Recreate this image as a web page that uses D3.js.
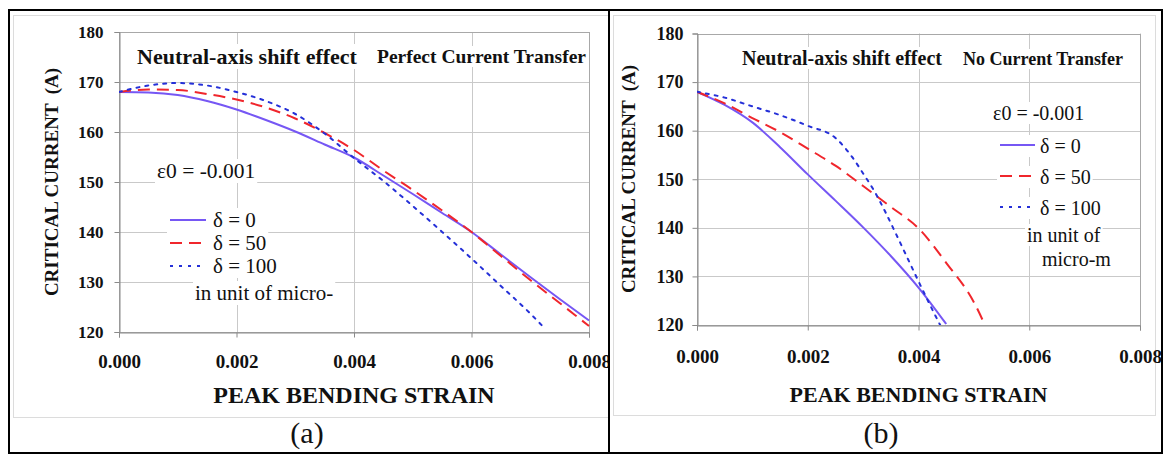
<!DOCTYPE html>
<html>
<head>
<meta charset="utf-8">
<script src="https://cdn.jsdelivr.net/npm/d3@7"></script>
<style>
  html, body { margin: 0; padding: 0; background: #fff; }
  svg { display: block; }
</style>
</head>
<body>
<svg id="fig" width="1166" height="455"></svg>
<script>
// ---- data -------------------------------------------------------------
const strainTicks = [0, 0.002, 0.004, 0.006, 0.008];
const currentTicks = [120, 130, 140, 150, 160, 170, 180];
const seriesLabels = ["δ = 0", "δ = 50", "δ = 100"];

// (a) perfect current transfer
const perfectStrainD0 = [0, 0.0005, 0.001, 0.0015, 0.002, 0.0025, 0.003, 0.0035, 0.004, 0.0045, 0.005, 0.0055, 0.006, 0.0065, 0.007, 0.0075, 0.008];
const perfectD0 = [168, 167.9, 167.4, 166.2, 164.5, 162.4, 160.1, 157.5, 154.9, 151.3, 147.6, 143.8, 140, 135.5, 131, 126.6, 122.3];
const perfectStrainD50 = [0, 0.0005, 0.001, 0.0015, 0.002, 0.0025, 0.003, 0.0035, 0.004, 0.0045, 0.005, 0.0055, 0.006, 0.0065, 0.007, 0.0075, 0.008];
const perfectD50 = [168, 168.5, 168.4, 167.6, 166.5, 164.9, 162.7, 159.8, 156.4, 152.3, 148.4, 144.3, 140, 135.2, 130.4, 125.8, 121.2];
const perfectStrainD100 = [0, 0.0005, 0.001, 0.0015, 0.002, 0.0025, 0.003, 0.0035, 0.004, 0.0045, 0.005, 0.0055, 0.006, 0.0065, 0.007, 0.0072];
const perfectD100 = [168, 169.3, 169.8, 169.3, 168, 166.2, 163.6, 159.7, 154.8, 150.2, 145.2, 140, 134.7, 129.2, 123.7, 121.3];

// (b) no current transfer
const noStrainD0 = [0, 0.0005, 0.001, 0.0015, 0.002, 0.0025, 0.003, 0.0035, 0.004, 0.0045];
const noD0 = [168, 165.3, 161.7, 156.6, 151.0, 145.6, 140.1, 134.2, 127.7, 120.2];
const noStrainD50 = [0, 0.0005, 0.001, 0.0015, 0.002, 0.0025, 0.003, 0.0035, 0.004, 0.0045, 0.005, 0.0052];
const noD50 = [168, 165.6, 162.6, 159.7, 156.3, 152.8, 148.6, 144.3, 139.9, 132.8, 124.7, 120];
const noStrainD100 = [0, 0.0005, 0.001, 0.0015, 0.002, 0.0025, 0.0028, 0.003, 0.0032, 0.0034, 0.0036, 0.0038, 0.004, 0.0042, 0.0044];
const noD100 = [168, 166.8, 165, 163.2, 161, 158.5, 154.6, 151.2, 147.6, 143.3, 138.6, 133.8, 129, 124.3, 119.8];

// ---- styling ----------------------------------------------------------
const SERIF = "'Liberation Serif', 'Times New Roman', serif";
const seriesStyle = [
  { color: "#7657f4", dash: null },
  { color: "#f0262c", dash: "12,7" },
  { color: "#2530d8", dash: "3,6" }
];

const svg = d3.select("#fig");
svg.append("rect").attr("width", 1166).attr("height", 455).attr("fill", "#fff");

function zip(xs, ys) { return xs.map((x, i) => [x, ys[i]]); }

// text with a white box behind it (chart text boxes hide the gridlines)
function boxedText(g, x, y, str, size, weight, anchor) {
  const grp = g.append("g");
  const r = grp.append("rect").attr("fill", "#fff");
  const t = grp.append("text")
    .attr("x", x).attr("y", y)
    .attr("font-family", SERIF)
    .attr("font-size", size)
    .attr("font-weight", weight || "normal")
    .attr("text-anchor", anchor || "start")
    .attr("fill", "#111")
    .text(str);
  const bb = t.node().getBBox();
  r.attr("x", bb.x - 2).attr("y", bb.y).attr("width", bb.width + 4).attr("height", bb.height);
  return grp;
}

function drawPanel(p) {
  const root = svg.append("g");
  const clipId = "cell-" + p.id;
  svg.append("clipPath").attr("id", clipId)
    .append("rect").attr("x", p.cell[0]).attr("y", 0).attr("width", p.cell[1] - p.cell[0]).attr("height", 455);
  const g = root.append("g").attr("clip-path", `url(#${clipId})`);

  // chart frame
  g.append("rect")
    .attr("x", p.frame[0] + 0.5).attr("y", p.frame[1] + 0.5)
    .attr("width", p.frame[2] - p.frame[0]).attr("height", p.frame[3] - p.frame[1])
    .attr("fill", "#fff").attr("stroke", "#dcdcdc");

  const x = d3.scaleLinear().domain([0, 0.008]).range([p.x0, p.x1]);
  const y = d3.scaleLinear().domain([120, 180]).range([p.y1, p.y0]);

  // gridlines
  const grid = g.append("g").attr("stroke", "#c9c9c9").attr("stroke-width", 1);
  grid.selectAll("line.h").data(currentTicks).join("line")
    .attr("x1", p.x0).attr("x2", p.x1)
    .attr("y1", d => Math.round(y(d)) + 0.5).attr("y2", d => Math.round(y(d)) + 0.5);
  grid.selectAll("line.v").data(strainTicks).join("line")
    .attr("y1", p.y0).attr("y2", p.y1)
    .attr("x1", d => Math.round(x(d)) + 0.5).attr("x2", d => Math.round(x(d)) + 0.5);

  // plot-area border
  g.append("rect")
    .attr("x", Math.round(p.x0) + 0.5).attr("y", Math.round(p.y0) + 0.5)
    .attr("width", Math.round(p.x1) - Math.round(p.x0)).attr("height", Math.round(p.y1) - Math.round(p.y0))
    .attr("fill", "none").attr("stroke", "#a8a8a8");

  // axes
  const yAxis = g.append("g").attr("transform", `translate(${Math.round(p.x0) + 0.5},0)`)
    .call(d3.axisLeft(y).tickValues(currentTicks).tickFormat(d3.format("d")).tickSize(5).tickPadding(p.yPad));
  const xAxis = g.append("g").attr("transform", `translate(0,${Math.round(p.y1) + 0.5})`)
    .call(d3.axisBottom(x).tickValues(strainTicks).tickFormat(d3.format(".3f")).tickSize(5).tickPadding(p.xPad));
  [yAxis, xAxis].forEach(a => {
    a.select(".domain").attr("stroke", "#8a8a8a");
    a.selectAll(".tick line").attr("stroke", "#8a8a8a");
  });
  yAxis.selectAll(".tick text")
    .attr("font-family", SERIF).attr("font-weight", "bold").attr("font-size", p.yTickSize).attr("fill", "#111");
  xAxis.selectAll(".tick text")
    .attr("font-family", SERIF).attr("font-weight", "bold").attr("font-size", p.xTickSize).attr("fill", "#111");

  // axis titles
  g.append("text")
    .attr("transform", `translate(${p.yTitle[0]},${p.yTitle[1]}) rotate(-90)`)
    .attr("text-anchor", "middle")
    .attr("font-family", SERIF).attr("font-weight", "bold").attr("font-size", p.yTitleSize)
    .attr("fill", "#111").attr("xml:space", "preserve")
    .text("CRITICAL CURRENT  (A)");
  g.append("text")
    .attr("x", (p.x0 + p.x1) / 2).attr("y", p.xTitleY)
    .attr("text-anchor", "middle")
    .attr("font-family", SERIF).attr("font-weight", "bold").attr("font-size", p.xTitleSize)
    .attr("fill", "#111")
    .text("PEAK BENDING STRAIN");

  // chart titles
  boxedText(g, p.title[0], p.title[1], "Neutral-axis shift effect", p.titleSize, "bold");
  boxedText(g, p.sub[0], p.sub[1], p.subText, p.subSize, "bold");

  // legend block
  boxedText(g, p.eps[0], p.eps[1], "ε0 = -0.001", p.epsSize);
  seriesLabels.forEach((lab, i) => {
    const by = p.legY[i];
    const grp = boxedText(g, p.legTextX, by, lab, p.legSize);
    const bb = grp.select("text").node().getBBox();
    grp.select("rect").attr("x", p.legLine[0] - 3).attr("width", bb.x + bb.width + 2 - (p.legLine[0] - 3));
    grp.append("line")
      .attr("x1", p.legLine[0]).attr("x2", p.legLine[1])
      .attr("y1", by - p.legLineOff).attr("y2", by - p.legLineOff)
      .attr("stroke", seriesStyle[i].color).attr("stroke-width", 2)
      .attr("stroke-dasharray", seriesStyle[i].dash);
  });
  p.unitLines.forEach(u => boxedText(g, u[0], u[1], u[2], p.legSize));

  // curves
  const plotClip = "plot-" + p.id;
  svg.append("clipPath").attr("id", plotClip)
    .append("rect").attr("x", p.x0).attr("y", p.y0).attr("width", p.x1 - p.x0 + 2).attr("height", p.y1 - p.y0);
  const line = d3.line().x(d => x(d[0])).y(d => y(d[1])).curve(d3.curveMonotoneX);
  g.append("g").attr("clip-path", `url(#${plotClip})`)
    .selectAll("path").data(p.series).join("path")
    .attr("d", d => line(d))
    .attr("fill", "none")
    .attr("stroke", (d, i) => seriesStyle[i].color)
    .attr("stroke-width", 2)
    .attr("stroke-linecap", (d, i) => i === 2 ? "round" : "butt")
    .attr("stroke-dasharray", (d, i) => seriesStyle[i].dash);

  // caption
  root.append("text")
    .attr("x", p.caption[0]).attr("y", p.caption[1])
    .attr("text-anchor", "middle")
    .attr("font-family", SERIF).attr("font-size", 30).attr("fill", "#111")
    .text(p.captionText);
}

drawPanel({
  id: "a", cell: [9, 608], frame: [13, 15, 640, 417],
  x0: 119, x1: 589, y0: 32, y1: 332,
  yPad: 11, xPad: 17, yTickSize: 17, xTickSize: 19,
  yTitle: [58, 182], yTitleSize: 19, xTitleY: 403, xTitleSize: 24,
  title: [137, 64], titleSize: 22,
  sub: [377, 63], subText: "Perfect Current Transfer", subSize: 19.5,
  eps: [157, 178], epsSize: 21.5, legSize: 21,
  legY: [227, 250, 273], legTextX: 213, legLine: [170, 206], legLineOff: 7,
  unitLines: [[195, 300, "in unit of micro-"]],
  series: [zip(perfectStrainD0, perfectD0), zip(perfectStrainD50, perfectD50), zip(perfectStrainD100, perfectD100)],
  caption: [307, 443], captionText: "(a)"
});

drawPanel({
  id: "b", cell: [610, 1162], frame: [613, 15, 1155, 415],
  x0: 697, x1: 1140, y0: 33.5, y1: 325,
  yPad: 9, xPad: 19, yTickSize: 18, xTickSize: 19,
  yTitle: [635, 179], yTitleSize: 19, xTitleY: 402, xTitleSize: 22,
  title: [742, 65], titleSize: 20,
  sub: [963, 65], subText: "No Current Transfer", subSize: 18,
  eps: [993, 120], epsSize: 20, legSize: 20,
  legY: [153, 184, 215], legTextX: 1040, legLine: [1000, 1035], legLineOff: 8,
  unitLines: [[1027, 242, "in unit of"], [1042, 266, "micro-m"]],
  series: [zip(noStrainD0, noD0), zip(noStrainD50, noD50), zip(noStrainD100, noD100)],
  caption: [881, 443], captionText: "(b)"
});

// table rules around the two cells
const rules = svg.append("g").attr("stroke", "#000").attr("stroke-width", 2).attr("fill", "none");
rules.append("rect").attr("x", 9).attr("y", 10).attr("width", 1153).attr("height", 443);
rules.append("line").attr("x1", 609).attr("x2", 609).attr("y1", 10).attr("y2", 453);
</script>
</body>
</html>
